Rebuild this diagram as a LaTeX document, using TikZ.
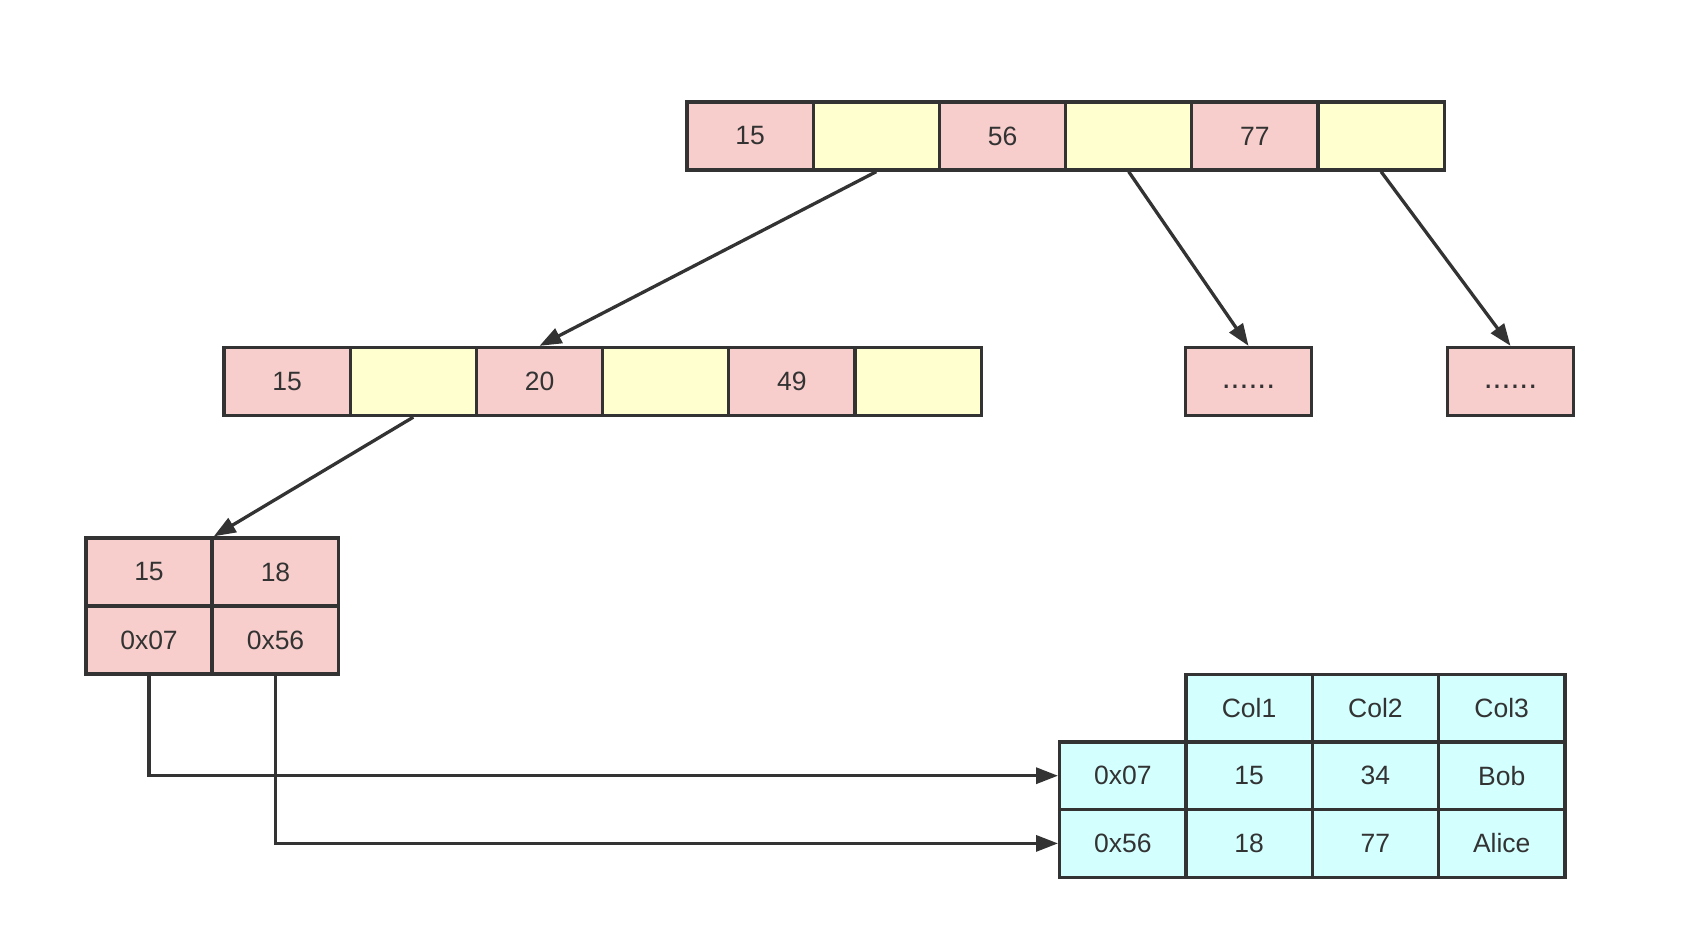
\documentclass[tikz,border=0pt]{standalone}
\usepackage{fontspec}
\setmainfont{Liberation Sans}
\usetikzlibrary{arrows.meta}
\definecolor{lc}{HTML}{333333}
\definecolor{pk}{HTML}{F8CECC}
\definecolor{yl}{HTML}{FFFFD0}
\definecolor{cy}{HTML}{D4FFFF}
\tikzset{
  cell/.style={draw=lc, line width=3.3pt, minimum width=126.2pt, minimum height=68pt, inner sep=0pt, text=lc, font=\fontsize{26.5}{30}\selectfont},
  pkc/.style={cell, fill=pk},
  ylc/.style={cell, fill=yl},
  cyc/.style={cell, fill=cy, minimum height=67.7pt, minimum width=126.3pt},
  dotc/.style={pkc, font=\fontsize{32}{36}\selectfont},
  arr/.style={draw=lc, line width=3.3pt, -{Triangle[length=22pt,width=16pt]}}
}
\begin{document}
\begin{tikzpicture}[x=1pt,y=-1pt]
\useasboundingbox (0,0) rectangle (1686,930);
% top row
\node[pkc] (t1) at (750.1,136) {15};
\node[ylc] (t2) at (876.3,136) {};
\node[pkc] (t3) at (1002.5,136) {56};
\node[ylc] (t4) at (1128.7,136) {};
\node[pkc] (t5) at (1254.9,136) {77};
\node[ylc] (t6) at (1381.1,136) {};
% middle row
\node[pkc] (m1) at (287.1,381.5) {15};
\node[ylc] (m2) at (413.3,381.5) {};
\node[pkc] (m3) at (539.5,381.5) {20};
\node[ylc] (m4) at (665.7,381.5) {};
\node[pkc] (m5) at (791.9,381.5) {49};
\node[ylc] (m6) at (918.1,381.5) {};
% dots
\node[dotc] (d1) at (1248.5,381.5) {\smash{\raisebox{-7pt}{......}}};
\node[dotc] (d2) at (1510.5,381.5) {\smash{\raisebox{-7pt}{......}}};
% leaf
\node[pkc] (l1) at (149,572) {15};
\node[pkc] (l2) at (275.5,572) {18};
\node[pkc] (l3) at (149,640) {0x07};
\node[pkc] (l4) at (275.5,640) {0x56};
% table
\node[cyc] (h1) at (1249.1,708) {Col1};
\node[cyc] (h2) at (1375.4,708) {Col2};
\node[cyc] (h3) at (1501.7,708) {Col3};
\node[cyc] (r1) at (1122.8,775.7) {0x07};
\node[cyc] (r1a) at (1249.1,775.7) {15};
\node[cyc] (r1b) at (1375.4,775.7) {34};
\node[cyc] (r1c) at (1501.7,775.7) {Bob};
\node[cyc] (r2) at (1122.8,843.4) {0x56};
\node[cyc] (r2a) at (1249.1,843.4) {18};
\node[cyc] (r2b) at (1375.4,843.4) {77};
\node[cyc] (r2c) at (1501.7,843.4) {Alice};
% arrows
\draw[arr] (t2.south) -- (m3.north);
\draw[arr] (t4.south) -- (d1.north);
\draw[arr] (t6.south) -- (d2.north);
\draw[arr] (m2.south) -- (l1.north east);
\draw[arr] (l3.south) |- (r1.west);
\draw[arr] (l4.south) |- (r2.west);
\end{tikzpicture}
\end{document}
